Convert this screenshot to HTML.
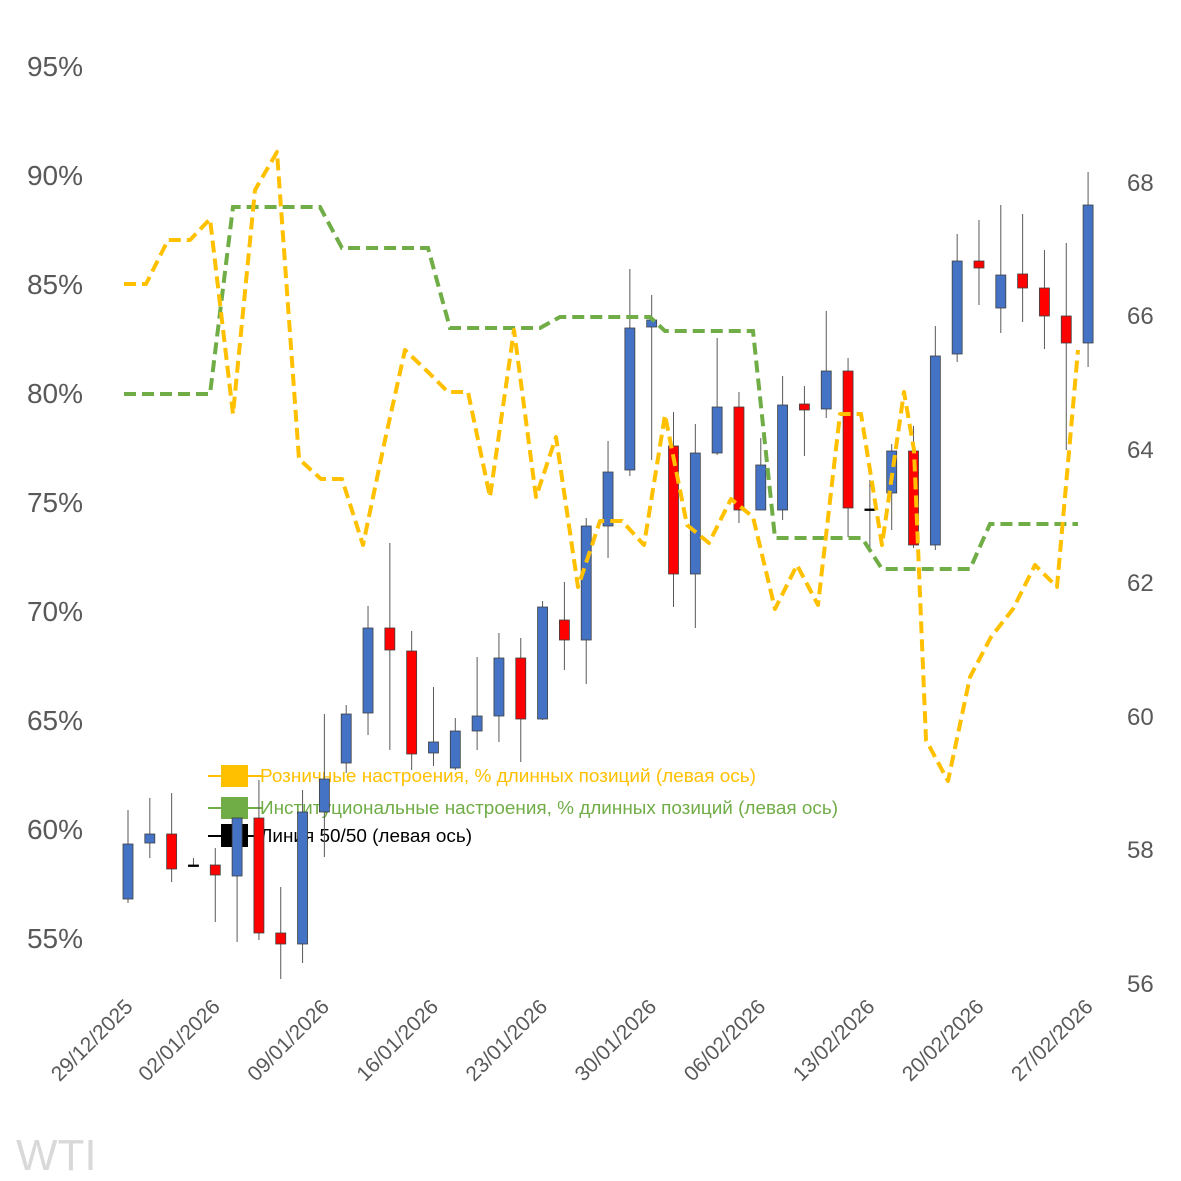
<!DOCTYPE html>
<html><head><meta charset="utf-8"><style>body{margin:0;background:#fff}svg{display:block}</style></head>
<body>
<svg id="s" width="1181" height="1181" xmlns="http://www.w3.org/2000/svg" font-family="Liberation Sans, DejaVu Sans, sans-serif">
<rect width="1181" height="1181" fill="#fff"/>
<g fill="#595959" font-size="28" text-anchor="end">
<text x="83" y="76">95%</text><text x="83" y="185">90%</text><text x="83" y="294">85%</text><text x="83" y="403">80%</text><text x="83" y="512">75%</text><text x="83" y="621">70%</text><text x="83" y="730">65%</text><text x="83" y="839">60%</text><text x="83" y="948">55%</text>
</g>
<g fill="#595959" font-size="24">
<text x="1127" y="191">68</text><text x="1127" y="324">66</text><text x="1127" y="458">64</text><text x="1127" y="591">62</text><text x="1127" y="725">60</text><text x="1127" y="858">58</text><text x="1127" y="992">56</text>
</g>
<g id="xl" fill="#595959" font-size="21" text-anchor="end"></g>
<text x="16" y="1170" font-size="44" fill="#d9d9d9">WTI</text>
<g font-size="18">
<line x1="208" y1="776" x2="262" y2="776" stroke="#ffc000" stroke-width="2"/><rect x="221" y="765" width="27" height="22" fill="#ffc000"/>
<text x="260" y="782" fill="#ffc000" textLength="496" lengthAdjust="spacingAndGlyphs">Розничные настроения, % длинных позиций (левая ось)</text>
<line x1="208" y1="808" x2="262" y2="808" stroke="#70ad47" stroke-width="2"/><rect x="221" y="797" width="27" height="22" fill="#70ad47"/>
<text x="260" y="814" fill="#70ad47" textLength="578" lengthAdjust="spacingAndGlyphs">Институциональные настроения, % длинных позиций (левая ось)</text>
<line x1="208" y1="836" x2="262" y2="836" stroke="#000" stroke-width="2"/><rect x="221" y="824" width="27" height="23" fill="#000"/>
<text x="260" y="842" fill="#000" textLength="212" lengthAdjust="spacingAndGlyphs">Линия 50/50 (левая ось)</text>
</g>
<g id="c"></g>
<polyline fill="none" stroke="#70ad47" stroke-width="4" stroke-dasharray="12,6" points="124,394 210,394 233,207 320,207 342,248 428,248 450,328 540,328 560,317 650,317 665,331 753,331 775,538 862,538 882,569 970,569 990,524 1078,524"/>
<polyline fill="none" stroke="#ffc000" stroke-width="4" stroke-dasharray="12,6" stroke-linejoin="round" points="124,284 146,284 168,240 190,240 210,219 233,414 255,190 277,152 299,459 321,479 342,479 363,545 385,440 405,350 428,372 448,392 468,392 490,497 514,330 536,497 556,437 578,587 600,521 622,521 644,545 665,415 687,525 709,543 731,499 753,517 775,609 797,565 818,605 840,414 861,414 882,545 904,392 914,450 926,740 948,781 970,677 991,637 1013,609 1035,565 1057,587 1078,350"/>
</svg>
<script>
var d=[[810,903,844,899,'b'],[798,858,834,843,'b'],[793,882,834,869,'r'],[858,866,865,866,'k'],[848,922,865,875,'r'],[823,942,818,876,'b'],[780,940,818,933,'r'],[887,979,933,944,'r'],[790,963,812,944,'b'],[714,857,779,812,'b'],[705,773,714,763,'b'],[606,735,628,713,'b'],[543,750,628,650,'r'],[631,770,651,754,'r'],[687,766,742,753,'b'],[718,770,731,768,'b'],[657,750,716,731,'b'],[633,742,658,716,'b'],[638,762,658,719,'r'],[601,720,607,719,'b'],[582,670,620,640,'r'],[518,684,526,640,'b'],[441,558,472,526,'b'],[269,476,328,470,'b'],[295,460,320,327,'b'],[412,607,446,574,'r'],[424,628,453,574,'b'],[338,455,407,453,'b'],[392,523,407,510,'r'],[438,510,465,510,'b'],[376,520,405,510,'b'],[386,456,404,410,'r'],[311,418,371,409,'b'],[358,537,371,508,'r'],[480,550,509,510,'k'],[444,530,451,493,'b'],[426,548,451,545,'r'],[326,550,356,545,'b'],[234,362,261,354,'b'],[220,305,261,268,'r'],[205,333,275,308,'b'],[214,322,274,288,'r'],[250,349,288,316,'r'],[243,450,316,343,'r'],[172,367,205,343,'b']];
var h='';d.forEach(function(c,i){var x=128+21.82*i;var f=c[4]=='b'?'#4472c4':c[4]=='r'?'#ff0000':'#000';
h+='<line x1="'+x+'" y1="'+c[0]+'" x2="'+x+'" y2="'+c[1]+'" stroke="#595959" stroke-width="1"/>';
var bh=Math.max(c[3]-c[2],1.5);
h+='<rect x="'+(x-5)+'" y="'+c[2]+'" width="10" height="'+bh+'" fill="'+f+'" stroke="'+(c[4]=='k'?'#000':'#404040')+'" stroke-width="0.8"/>';});
document.getElementById('c').innerHTML=h;
var L=['29/12/2025','02/01/2026','09/01/2026','16/01/2026','23/01/2026','30/01/2026','06/02/2026','13/02/2026','20/02/2026','27/02/2026'],idx=[0,4,9,14,19,24,29,34,39,44],t='';
L.forEach(function(s,k){var x=134+21.82*idx[k],y=1008;t+='<text transform="translate('+x+','+y+') rotate(-45)">'+s+'</text>';});
document.getElementById('xl').innerHTML=t;
</script>
</body></html>
